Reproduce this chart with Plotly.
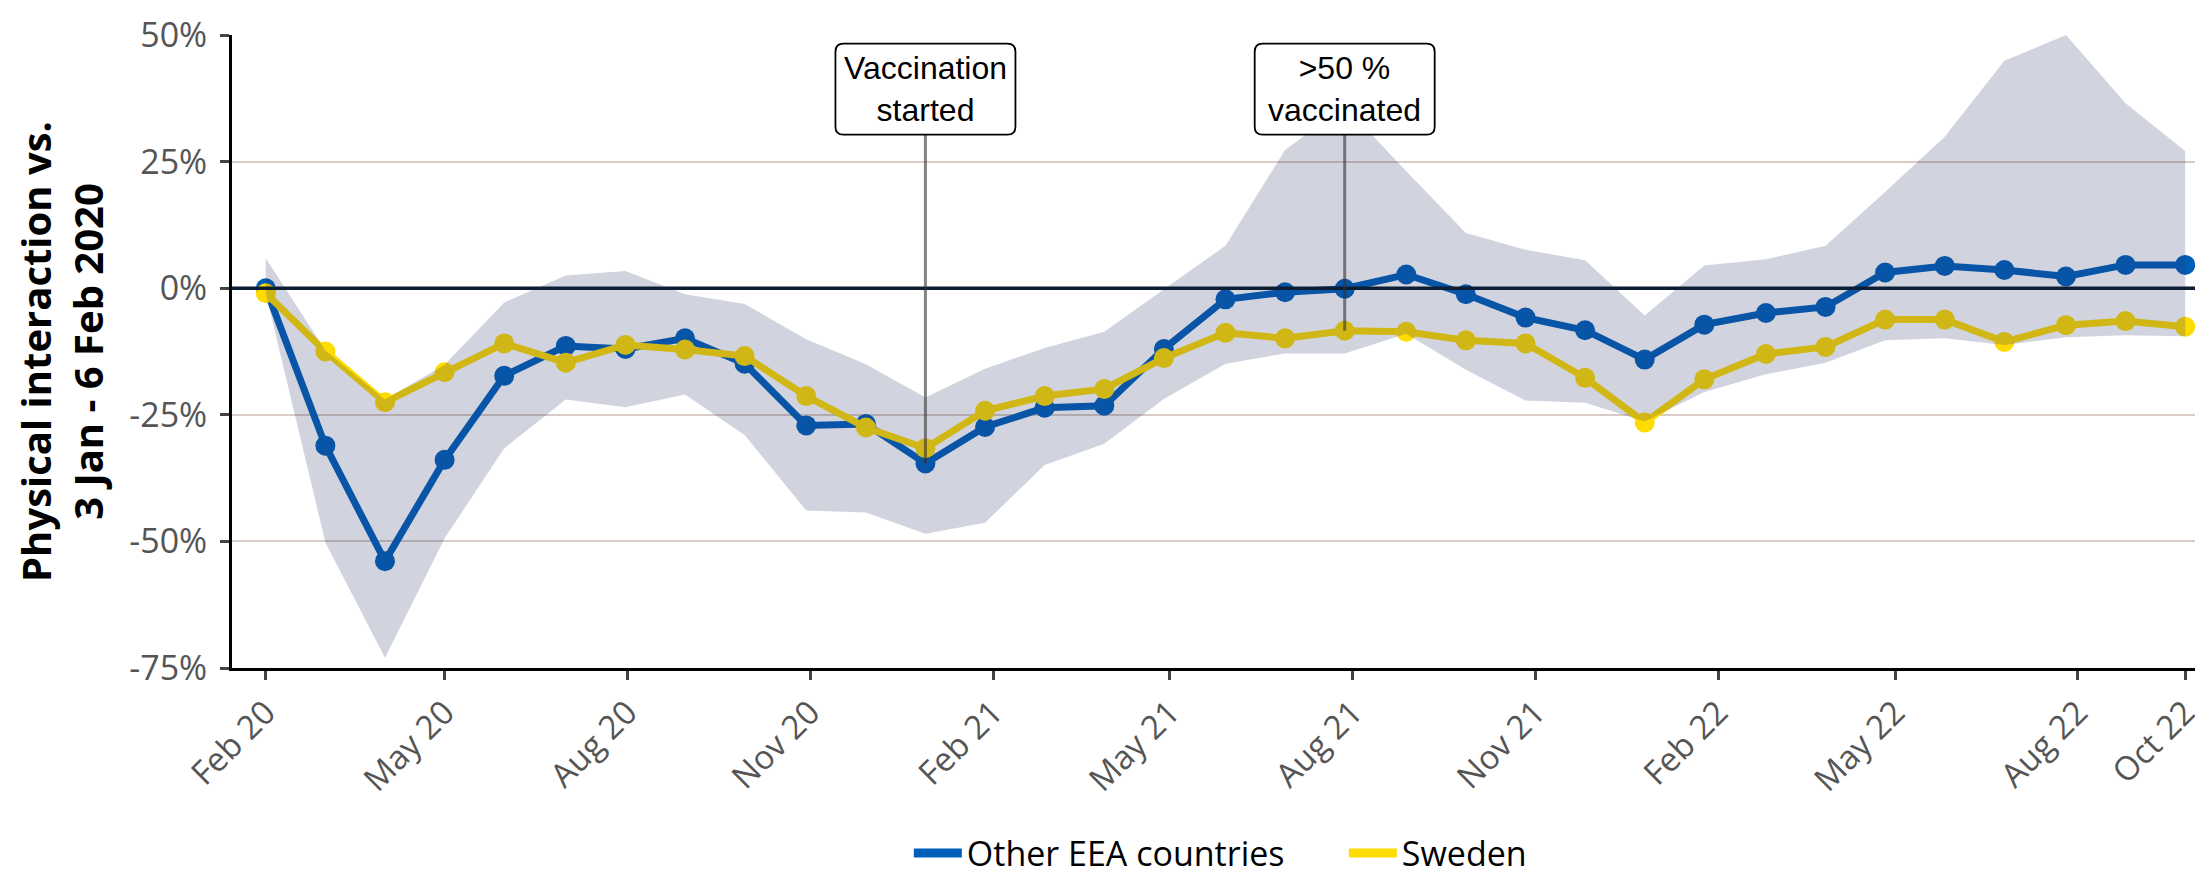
import plotly.graph_objects as go

# ---- data ----
dates = [
    "2020-02-01", "2020-03-02", "2020-04-01", "2020-05-01", "2020-05-31", "2020-07-01",
    "2020-07-31", "2020-08-30", "2020-09-29", "2020-10-30", "2020-11-29", "2020-12-29",
    "2021-01-28", "2021-02-27", "2021-03-29", "2021-04-28", "2021-05-29", "2021-06-28",
    "2021-07-28", "2021-08-28", "2021-09-27", "2021-10-27", "2021-11-26", "2021-12-26",
    "2022-01-25", "2022-02-25", "2022-03-27", "2022-04-26", "2022-05-26", "2022-06-25",
    "2022-07-26", "2022-08-25", "2022-09-24",
]
other_eea = [0.0, -31.1, -53.9, -33.9, -17.3, -11.4, -12.0, -9.9, -14.9, -27.1, -26.8,
             -34.6, -27.4, -23.6, -23.2, -12.0, -2.2, -0.8, -0.1, 2.7, -1.2, -5.8,
             -8.3, -14.1, -7.2, -4.9, -3.7, 3.1, 4.4, 3.6, 2.3, 4.6, 4.6]
sweden = [-1.0, -12.5, -22.5, -16.6, -10.9, -14.7, -11.2, -12.1, -13.4, -21.3, -27.5,
          -31.6, -24.2, -21.3, -19.9, -13.8, -8.8, -9.9, -8.4, -8.6, -10.3, -10.9,
          -17.7, -26.5, -18.0, -13.0, -11.6, -6.2, -6.2, -10.6, -7.3, -6.5, -7.6]
range_upper = [5.9, -12.3, -22.0, -15.1, -2.8, 2.5, 3.4, -1.2, -3.1, -10.1, -15.0,
               -21.6, -15.9, -11.8, -8.6, -0.3, 8.4, 27.3, 36.0, 23.1, 10.9, 7.6,
               5.5, -5.4, 4.5, 5.7, 8.4, 19.0, 29.9, 44.9, 50.0, 36.5, 27.1]
range_lower = [-1.0, -50.2, -73.0, -49.4, -31.6, -22.0, -23.5, -21.0, -29.0, -43.9, -44.3,
               -48.5, -46.3, -34.9, -30.7, -21.9, -14.9, -12.9, -12.9, -9.0, -16.1, -22.2,
               -22.6, -26.3, -20.5, -17.0, -14.7, -10.3, -9.9, -11.2, -9.7, -9.3, -9.5]

tick_dates = ["2020-02-01", "2020-05-01", "2020-08-01", "2020-11-01", "2021-02-01",
              "2021-05-01", "2021-08-01", "2021-11-01", "2022-02-01", "2022-05-01",
              "2022-08-01", "2022-09-24"]
tick_labels = ["Feb 20", "May 20", "Aug 20", "Nov 20", "Feb 21", "May 21", "Aug 21",
               "Nov 21", "Feb 22", "May 22", "Aug 22", "Oct 22"]
y_ticks = [-75, -50, -25, 0, 25, 50]
y_labels = ["-75%", "-50%", "-25%", "0%", "25%", "50%"]

events = [("Vaccination<br>started", 11), (">50 %<br>vaccinated", 18)]
LABEL_Y = 39.3  # vertical centre of the event labels (data units)

BLUE = "#005EB8"
YELLOW = "#FFDC00"

fig = go.Figure()

fig.add_trace(go.Scatter(x=dates, y=other_eea, mode="lines+markers",
                         line=dict(color=BLUE, width=7), marker=dict(size=20, color=BLUE),
                         showlegend=False, hoverinfo="skip"))
fig.add_trace(go.Scatter(x=dates, y=sweden, mode="lines+markers",
                         line=dict(color=YELLOW, width=7), marker=dict(size=20, color=YELLOW),
                         showlegend=False, hoverinfo="skip"))
fig.add_trace(go.Scatter(x=dates, y=range_lower, mode="lines", line=dict(width=0),
                         showlegend=False, hoverinfo="skip"))
fig.add_trace(go.Scatter(x=dates, y=range_upper, mode="lines", line=dict(width=0),
                         fill="tonexty", fillcolor="rgba(40,45,98,0.21)",
                         showlegend=False, hoverinfo="skip"))

# legend entries
fig.add_trace(go.Scatter(x=[None], y=[None], mode="lines", name="Other EEA countries",
                         line=dict(color=BLUE, width=9)))
fig.add_trace(go.Scatter(x=[None], y=[None], mode="lines", name="Sweden",
                         line=dict(color=YELLOW, width=9)))

# zero line above the data
fig.add_shape(type="line", xref="paper", x0=0, x1=1, yref="y", y0=0, y1=0,
              line=dict(color="#0B1E33", width=3.5), layer="above")


def rounded_rect(w, h, r):
    x0, x1, y0, y1 = -w / 2, w / 2, -h / 2, h / 2
    return (f"M {x0 + r},{y0} L {x1 - r},{y0} Q {x1},{y0} {x1},{y0 + r} "
            f"L {x1},{y1 - r} Q {x1},{y1} {x1 - r},{y1} L {x0 + r},{y1} "
            f"Q {x0},{y1} {x0},{y1 - r} L {x0},{y0 + r} Q {x0},{y0} {x0 + r},{y0} Z")


for text, idx in events:
    # connector from the lowest series value up to the label
    fig.add_shape(type="line", xref="x", yref="y",
                  x0=dates[idx], x1=dates[idx],
                  y0=min(other_eea[idx], sweden[idx]), y1=LABEL_Y,
                  line=dict(color="rgba(50,50,50,0.6)", width=3), layer="above")
    # rounded label box
    fig.add_shape(type="path", xref="x", yref="y",
                  xsizemode="pixel", ysizemode="pixel",
                  xanchor=dates[idx], yanchor=LABEL_Y,
                  path=rounded_rect(180, 91, 8),
                  fillcolor="white", line=dict(color="black", width=1.8), layer="above")
    fig.add_annotation(x=dates[idx], y=LABEL_Y, text=text, showarrow=False,
                       font=dict(family="Liberation Sans, Arial", size=32, color="black"))

fig.update_layout(
    width=2203, height=875,
    margin=dict(l=224, r=0, t=27, b=206),
    plot_bgcolor="white", paper_bgcolor="white",
    font=dict(family="Open Sans", color="#555555"),
    legend=dict(orientation="h", x=0.342, xanchor="left", y=-0.293, yanchor="middle",
                traceorder="normal", entrywidth=372, entrywidthmode="pixels",
                font=dict(size=34, color="black"), itemwidth=48),
    xaxis=dict(type="date", range=["2020-01-15", "2022-10-07"],
               tickvals=tick_dates, ticktext=tick_labels, tickangle=-45,
               tickfont=dict(size=33, color="#555555"),
               showgrid=False, zeroline=False,
               showline=True, linecolor="black", linewidth=3,
               ticks="outside", ticklen=9, tickwidth=3, tickcolor="#444444"),
    yaxis=dict(range=[-75, 50], tickvals=y_ticks, ticktext=y_labels,
               tickfont=dict(size=34, color="#555555"),
               showgrid=True, gridcolor="#D9CBC5", gridwidth=2, zeroline=False,
               showline=True, linecolor="black", linewidth=3,
               ticks="outside", ticklen=9, tickwidth=3, tickcolor="#444444",
               ticklabelstandoff=6,
               title=dict(text="<b>Physical interaction vs.<br>3 Jan - 6 Feb 2020</b>",
                          font=dict(size=40, color="black", family="Open Sans"),
                          standoff=28)),
)

fig.write_html("out.html")
